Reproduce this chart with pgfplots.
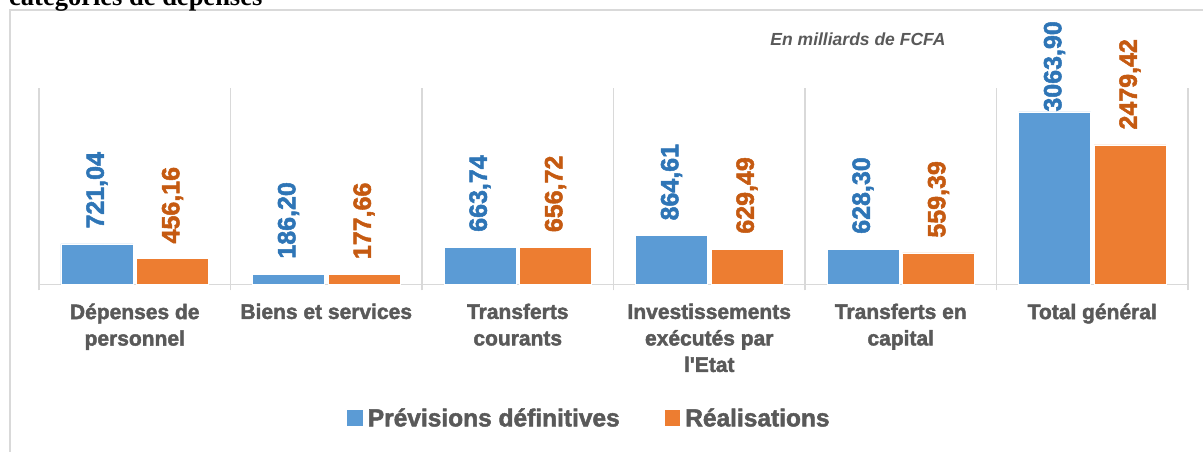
\documentclass[border=0pt]{standalone}
\usepackage{fontspec}
\setmainfont[BoldFeatures={FakeBold=2}]{Liberation Sans}
\newfontfamily\titleserif{Liberation Serif}
\usepackage{pgfplots}
\pgfplotsset{compat=1.18}

\definecolor{barblue}{HTML}{5B9BD5}
\definecolor{barorange}{HTML}{ED7D31}
\definecolor{lblblue}{HTML}{2E75B6}
\definecolor{lblorange}{HTML}{C55A11}
\definecolor{txtgrey}{HTML}{595959}
\definecolor{linegrey}{HTML}{D9D9D9}

\begin{document}
\begin{tikzpicture}[x=1bp,y=1bp]
% frame of the chart area (right and bottom edges are cut off in the source)
\draw[linegrey, line width=1.5bp] (10,-5) -- (10,442) -- (1210,442);
\node[anchor=base west, inner sep=0pt] at (9,446)
  {\fontsize{26.5bp}{30bp}\selectfont\titleserif\bfseries catégories de dépenses};
\node[anchor=base, inner sep=0pt, text=txtgrey] at (858,406)
  {\fontsize{17.5bp}{20bp}\selectfont\bfseries\itshape En milliards de FCFA};

\begin{axis}[
  at={(39bp,167.5bp)}, anchor=south west,
  scale only axis,
  width=1149bp, height=196.5bp,
  ybar=3.5bp, bar width=72bp,
  xmin=-0.5, xmax=5.5,
  ymin=0, ymax=3490,
  axis x line*=bottom, axis y line=none,
  x axis line style={linegrey, line width=1.5bp},
  xtick={0,...,5},
  xticklabels={{Dépenses de\\personnel},{Biens et services},{Transferts\\courants},
    {Investissements\\exécutés par\\l\textquotesingle Etat},{Transferts en\\capital},{Total général}},
  xticklabel style={align=center, anchor=north, inner sep=0pt, text=txtgrey,
    font=\fontsize{21bp}{26.5bp}\selectfont\bfseries, yshift=-19bp},
  major tick length=0pt,
  minor xtick={-0.5,0.5,...,5.5},
  minor tick length=6bp,
  tick align=outside,
  every tick/.style={linegrey, line width=1.5bp},
  xminorgrids,
  minor grid style={linegrey, line width=1.5bp},
  ytick=\empty,
  visualization depends on={rawy \as \rawy},
  nodes near coords={\pgfmathprintnumber[fixed, fixed zerofill, precision=2,
    use comma, 1000 sep={}, assume math mode=true]{\pgfplotspointmeta}},
  every node near coord/.append style={rotate=90, anchor=west, inner sep=0pt,
    font=\fontsize{25bp}{28bp}\selectfont\bfseries,
    xshift={(\rawy>3000 ? 0 : 15)*1bp}},
  legend columns=2,
  legend style={draw=none, fill=none, at={(0.4795,-0.68)}, anchor=center,
    font=\fontsize{24.5bp}{28bp}\selectfont\bfseries, text=txtgrey,
    nodes={inner sep=3bp},
    /tikz/every odd column/.append style={column sep=2bp},
    /tikz/every even column/.append style={column sep=42bp}},
  legend image code/.code={\fill[#1,draw=none] (0bp,-7.5bp) rectangle (15.5bp,8bp);},
]
\addplot[fill=barblue, draw=white, line width=0.75bp,
  every node near coord/.append style={text=lblblue}] coordinates {
  (0,721.04) (1,186.20) (2,663.74) (3,864.61) (4,628.30) (5,3063.90)
};
\addlegendentry{Prévisions définitives}
\addplot[fill=barorange, draw=white, line width=0.75bp,
  every node near coord/.append style={text=lblorange}] coordinates {
  (0,456.16) (1,177.66) (2,656.72) (3,629.49) (4,559.39) (5,2479.42)
};
\addlegendentry{Réalisations}
\end{axis}
\pgfresetboundingbox
\useasboundingbox (0,0) rectangle (1203,452);
\end{tikzpicture}
\end{document}
